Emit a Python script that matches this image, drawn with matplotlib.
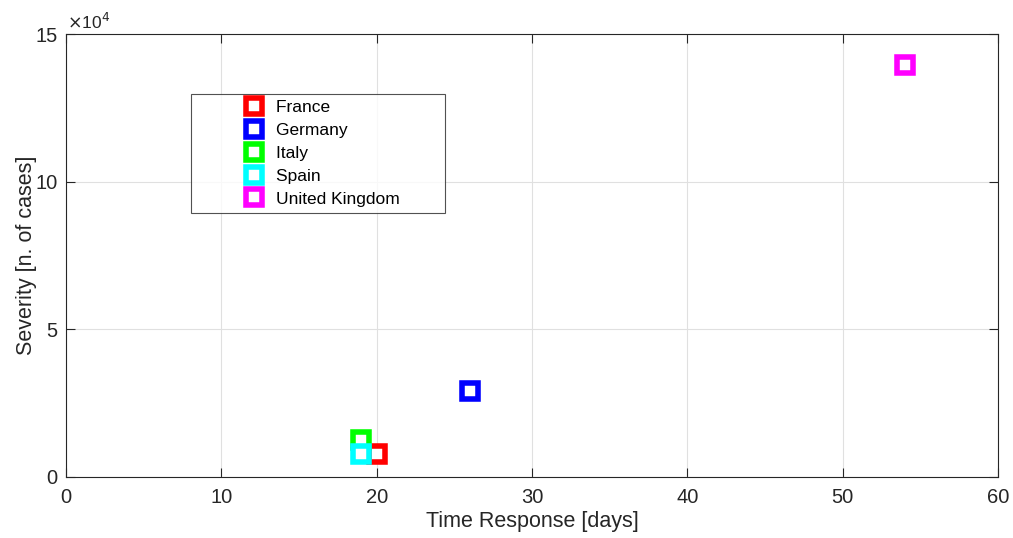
import matplotlib.pyplot as plt
from matplotlib.ticker import FuncFormatter

# Data
countries = ['France', 'Germany', 'Italy', 'Spain', 'United Kingdom']
response_days = [20, 26, 19, 19, 54]
severity_cases = [7700, 29000, 12400, 7700, 139400]
colors = ['#ff0000', '#0000ff', '#00ff00', '#00ffff', '#ff00ff']

plt.rcParams['font.family'] = ['Liberation Sans', 'DejaVu Sans']
txt = '#262626'

fig = plt.figure(figsize=(10.13, 5.38), dpi=100)
ax = fig.add_axes([0.0652, 0.1134, 0.92, 0.8234])

for name, x, y, c in zip(countries, response_days, severity_cases, colors):
    ax.plot(x, y, 's', color=c, markerfacecolor='white', markeredgecolor=c,
            markersize=11, markeredgewidth=4, label=name, linestyle='none')

ax.set_xlim(0, 60)
ax.set_ylim(0, 150000)
ax.set_xticks(range(0, 61, 10))
ax.set_yticks([0, 50000, 100000, 150000])
ax.yaxis.set_major_formatter(FuncFormatter(lambda v, p: '%g' % (v / 1e4)))

ax.grid(True, color='#e0e0e0', linewidth=0.8)
ax.set_axisbelow(True)
for s in ax.spines.values():
    s.set_color(txt)
    s.set_linewidth(0.8)
ax.tick_params(direction='in', length=6.5, width=0.8, colors=txt, labelsize=14.5,
               top=True, right=True)
ax.tick_params(axis='x', pad=8)
ax.tick_params(axis='y', pad=6)

ax.set_xlabel('Time Response [days]', fontsize=15.5, color=txt, labelpad=3)
ax.set_ylabel('Severity [n. of cases]', fontsize=15.5, color=txt, labelpad=-1)
ax.text(0.001, 1.011, r'$\times$10$^4$', transform=ax.transAxes, fontsize=12.5,
        color=txt, ha='left', va='baseline')

labels = [n + '        ' for n in countries]
leg = ax.legend(ax.get_lines(), labels, loc='upper left',
                bbox_to_anchor=(191 / 1013, 1 - 94 / 538), bbox_transform=fig.transFigure,
                fontsize=12.5, frameon=True, fancybox=False, edgecolor=txt,
                handlelength=6.5, handletextpad=-1.94, labelspacing=0.44,
                borderpad=0.36, borderaxespad=0, numpoints=1)
leg.get_frame().set_linewidth(0.8)
for t in leg.get_texts():
    t.set_color('black')

fig.savefig('out.png', dpi=100)
